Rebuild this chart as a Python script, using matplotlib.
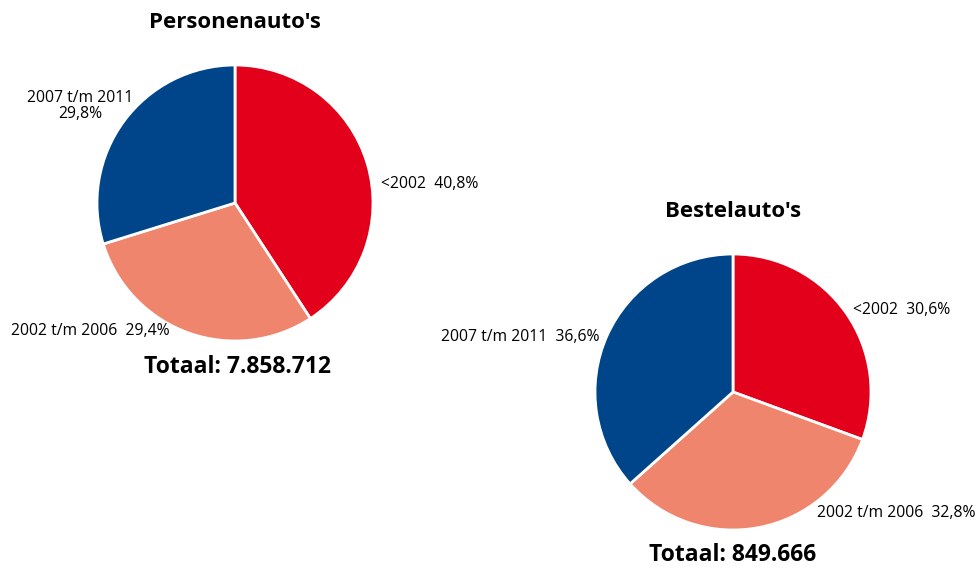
import matplotlib
matplotlib.use('Agg')
import matplotlib.pyplot as plt

plt.rcParams['font.family'] = ['Open Sans', 'DejaVu Sans']

categories = ['<2002', '2002 t/m 2006', '2007 t/m 2011']
colors = ['#E2001A', '#F0856D', '#00448A']

personen_share = [40.8, 29.4, 29.8]
personen_total = '7.858.712'

bestel_share = [30.6, 32.8, 36.6]
bestel_total = '849.666'

W, H = 978, 569
R = 138


def pie_axes(fig, cx, cy):
    # centre and radius in pixels -> figure fractions
    ax = fig.add_axes([(cx - R) / W, 1 - (cy + R) / H, 2 * R / W, 2 * R / H])
    return ax


def fmt(v):
    return f"{v:.1f}".replace('.', ',') + '%'


def draw_pie(ax, shares):
    ax.pie(shares, colors=colors, startangle=90, counterclock=False,
           wedgeprops=dict(edgecolor='white', linewidth=2))
    ax.set_xlim(-1, 1)
    ax.set_ylim(-1, 1)
    ax.set_aspect('equal')
    ax.axis('off')


fig = plt.figure(figsize=(W / 100, H / 100), dpi=100)

lab_size = 11.3
title_size = 16
tot_size = 16.5

# Personenauto's
ax = pie_axes(fig, 235, 203)
draw_pie(ax, personen_share)
ax.text(0, 1.31, "Personenauto's", ha='center', va='center',
        fontsize=title_size, fontweight='bold')
ax.text(1.058, 0.138, f"{categories[0]}  {fmt(personen_share[0])}",
        ha='left', va='center', fontsize=lab_size)
ax.text(-1.05, -0.928, f"{categories[1]}  {fmt(personen_share[1])}",
        ha='center', va='center', fontsize=lab_size)
ax.text(-1.123, 0.703, f"{categories[2]}\n{fmt(personen_share[2])}",
        ha='center', va='center', fontsize=lab_size, linespacing=1.0)
ax.text(0.015, -1.19, f"Totaal: {personen_total}", ha='center', va='center',
        fontsize=tot_size, fontweight='bold')

# Bestelauto's
ax = pie_axes(fig, 733, 392)
draw_pie(ax, bestel_share)
ax.text(0, 1.31, "Bestelauto's", ha='center', va='center',
        fontsize=title_size, fontweight='bold')
ax.text(0.87, 0.594, f"{categories[0]}  {fmt(bestel_share[0])}",
        ha='left', va='center', fontsize=lab_size)
ax.text(1.754, -0.877, f"{categories[1]}  {fmt(bestel_share[1])}",
        ha='right', va='center', fontsize=lab_size)
ax.text(-0.964, 0.399, f"{categories[2]}  {fmt(bestel_share[2])}",
        ha='right', va='center', fontsize=lab_size)
ax.text(0, -1.18, f"Totaal: {bestel_total}", ha='center', va='center',
        fontsize=tot_size, fontweight='bold')

for a in fig.axes:
    for t in a.texts:
        t.set_clip_on(False)

fig.savefig('out.png', dpi=100)
plt.close()
